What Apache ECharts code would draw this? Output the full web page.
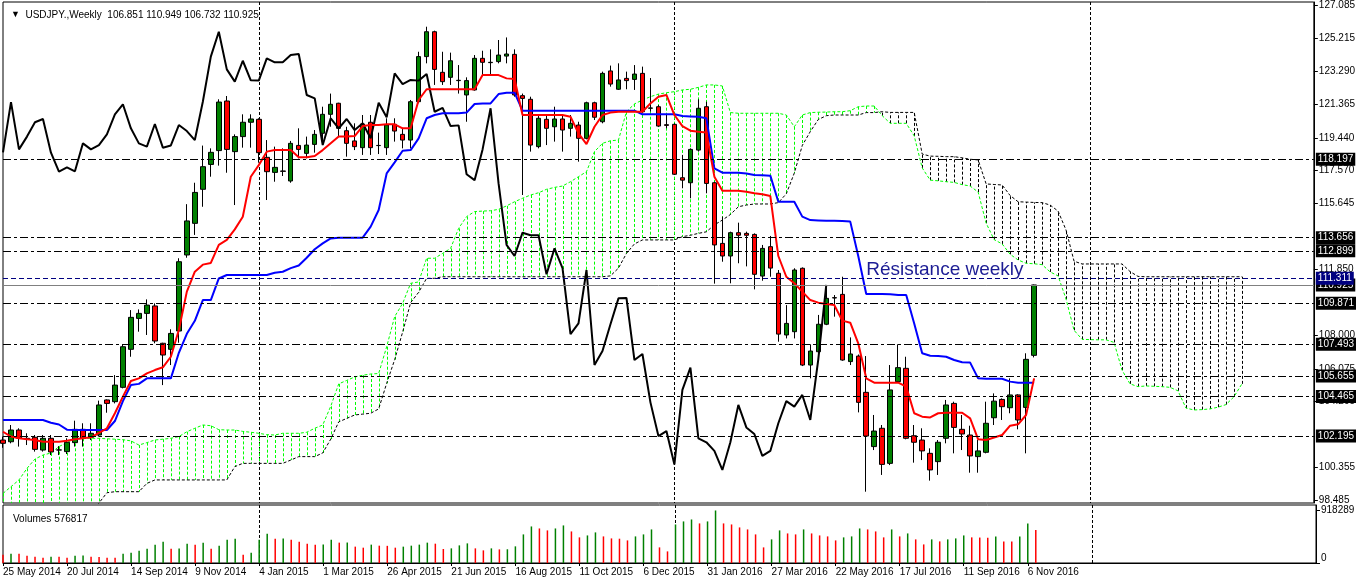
<!DOCTYPE html>
<html><head><meta charset="utf-8">
<script src="https://cdn.jsdelivr.net/npm/echarts@6/dist/echarts.min.js"></script>
<style>html,body{margin:0;padding:0;background:#fff}#c{width:1358px;height:584px}</style>
</head><body><div id="c"></div>
<script>
// ---- data (USDJPY weekly, 25 May 2014 .. 13 Nov 2016) ----
const tickLabels = ['25 May 2014','20 Jul 2014','14 Sep 2014','9 Nov 2014','4 Jan 2015','1 Mar 2015','26 Apr 2015','21 Jun 2015','16 Aug 2015','11 Oct 2015','6 Dec 2015','31 Jan 2016','27 Mar 2016','22 May 2016','17 Jul 2016','11 Sep 2016','6 Nov 2016'];

const opens = [101.95,101.85,102.53,102.05,102.11,101.37,102.05,101.37,101.28,101.80,
102.57,102.11,102.24,104.27,104.17,105.00,107.20,108.99,109.28,109.71,
107.55,107.20,108.26,112.66,114.49,116.46,117.90,118.70,121.57,118.64,
119.51,120.34,120.51,118.31,117.44,117.52,116.94,119.00,118.54,119.06,
119.70,120.80,121.44,119.85,119.26,118.87,120.34,118.99,118.87,120.22,
119.64,119.31,121.53,124.14,125.58,123.23,122.94,122.75,121.92,122.21,
124.04,123.79,123.85,124.17,124.27,121.88,121.67,118.93,120.51,120.08,
120.53,119.99,120.18,119.41,121.47,120.37,123.31,122.25,122.88,122.82,
123.17,121.15,121.24,120.20,120.22,117.13,116.84,118.73,121.24,116.84,
113.33,112.60,113.95,113.91,113.85,111.44,113.14,111.60,108.03,108.22,
111.89,106.29,107.06,108.65,110.19,110.38,106.49,106.81,104.71,101.57,
102.63,100.60,105.33,106.10,102.20,101.95,101.18,100.70,102.05,104.07,
102.57,102.24,100.99,101.24,103.24,104.30,103.82,104.56,103.84,106.851];

const highs = [102.15,102.82,102.63,102.34,102.24,102.24,102.24,101.60,102.05,103.07,
102.92,102.92,104.23,104.30,105.71,107.45,109.47,109.51,110.09,109.86,
107.58,108.36,112.47,115.60,116.84,118.99,118.83,121.67,121.86,119.64,
120.80,120.80,120.57,119.31,118.93,118.83,119.26,119.99,119.51,119.89,
121.24,122.00,121.47,120.08,120.28,120.76,120.76,119.74,120.57,120.57,
119.99,121.63,124.42,125.87,125.64,124.42,124.37,123.65,122.94,124.23,
124.48,124.56,125.10,125.25,124.56,122.00,121.82,120.70,120.76,121.24,
120.76,120.76,120.37,121.53,121.53,123.27,123.62,123.75,123.27,123.65,
123.56,122.90,121.34,120.76,120.28,118.45,118.83,121.67,121.53,116.90,
114.88,114.01,114.53,114.01,113.91,113.24,113.76,111.79,109.76,111.89,
111.94,107.49,109.19,110.92,110.34,111.40,107.89,106.90,106.81,103.40,
102.82,106.29,107.49,106.77,102.82,102.63,101.47,101.95,104.27,104.17,
103.40,102.78,101.95,104.17,104.65,104.36,105.52,104.60,106.97,110.949];

const lows = [101.50,101.76,101.57,101.66,101.28,101.28,101.08,101.08,101.14,101.57,
101.57,101.95,102.15,103.53,104.07,104.94,106.77,108.22,108.03,107.55,
105.13,106.29,107.58,112.50,113.82,115.45,117.19,117.83,117.42,115.55,
118.87,118.87,118.00,115.84,116.90,117.23,116.84,118.25,118.25,118.58,
119.02,120.08,119.51,118.35,118.73,118.45,118.45,118.50,118.45,119.22,
118.83,118.83,121.44,123.75,122.50,122.50,122.50,122.00,120.37,122.17,
123.07,123.07,123.75,123.75,121.82,116.13,118.64,118.83,119.02,119.22,
118.64,119.51,118.06,119.35,120.47,120.28,122.40,122.21,122.25,122.21,
120.86,120.95,120.08,119.99,117.29,116.52,115.94,118.64,116.23,111.00,
112.27,111.02,112.18,112.00,110.67,111.17,111.40,107.64,107.83,107.83,
106.23,105.52,106.58,108.60,109.09,106.54,106.29,103.55,98.96,101.37,
99.93,100.50,105.27,101.99,100.64,100.79,99.60,99.93,101.76,101.18,
101.37,100.06,100.06,101.18,102.82,103.11,103.50,102.57,101.18,106.732];

const closes = [101.76,102.53,102.05,102.01,101.41,102.05,101.26,101.38,101.82,102.57,
102.05,102.34,103.98,104.07,105.13,107.35,109.05,109.28,109.76,107.68,
106.87,108.12,112.27,114.63,116.28,117.77,118.60,121.51,118.77,119.51,
120.34,120.53,118.58,117.48,117.73,117.50,119.12,118.77,119.02,119.64,
120.80,121.38,119.99,119.12,118.93,120.24,118.87,119.00,120.18,119.83,
119.31,121.53,124.14,125.58,123.40,122.69,123.90,122.77,122.75,124.04,
123.81,123.81,124.23,124.29,121.92,121.72,119.02,120.57,119.99,120.53,
119.89,120.28,119.41,121.47,120.63,123.17,122.55,122.79,122.75,123.13,
120.95,121.17,120.12,120.16,117.33,116.99,118.77,121.15,116.80,113.24,
112.60,113.95,113.80,113.80,111.54,113.04,111.90,108.08,108.70,111.79,
106.29,107.10,108.65,110.15,110.17,106.58,106.93,104.13,102.18,102.47,
100.54,104.85,106.14,102.05,101.82,101.32,100.22,101.82,103.98,102.68,
102.30,101.03,101.32,102.92,104.20,103.88,104.56,103.11,106.62,110.925];

const tenkan = [102.43,102.15,102.05,102.00,101.95,101.85,101.85,101.85,101.91,102.00,
102.05,102.11,102.37,102.63,103.50,104.46,105.37,105.52,105.81,106.00,
106.16,106.77,108.32,110.54,111.69,112.10,112.20,113.24,113.53,114.14,
114.87,117.19,117.86,118.64,118.73,118.73,118.73,118.31,118.31,118.39,
118.73,119.12,119.51,119.51,119.54,120.12,120.18,120.18,120.22,120.22,
119.99,119.99,121.63,122.25,122.25,122.25,122.25,122.25,122.25,122.25,
123.07,123.07,123.07,122.88,122.84,120.76,120.76,120.76,120.76,120.76,
120.76,120.66,119.70,119.08,120.08,120.76,120.90,120.95,120.95,120.95,
120.95,121.43,121.82,121.92,120.76,120.12,119.85,119.79,119.75,117.19,
116.38,116.38,116.38,116.32,116.23,116.17,116.07,112.60,111.40,111.02,
110.54,110.05,109.90,109.82,109.76,108.86,108.74,107.55,105.52,105.27,
105.27,105.27,105.27,105.04,103.50,103.30,103.26,103.50,103.53,103.53,
103.53,103.20,101.99,101.95,102.10,102.24,102.78,102.86,103.40,105.52];

const kijun = [103.11,103.11,103.11,103.11,103.11,103.11,102.95,102.85,102.55,102.53,
102.53,102.53,102.53,102.53,103.05,104.20,105.13,105.20,105.52,105.52,
105.52,105.52,107.00,108.10,108.85,110.05,110.05,111.30,111.50,111.50,
111.50,111.50,111.50,111.50,111.63,111.69,111.90,112.05,112.50,112.99,
113.33,113.62,113.66,113.66,113.66,113.66,114.30,115.26,117.38,118.02,
118.69,118.73,119.41,120.57,120.76,120.86,120.86,120.86,120.90,121.40,
121.43,121.43,121.97,122.05,122.05,121.01,121.01,121.01,121.01,121.01,
121.01,121.01,121.01,121.01,121.01,121.01,121.01,121.01,121.01,121.01,
120.80,120.80,120.80,120.80,120.80,120.70,120.68,120.66,120.57,117.67,
117.42,117.42,117.42,117.38,117.29,117.27,117.25,115.74,115.74,115.74,
114.88,114.68,114.66,114.64,114.64,114.62,114.59,112.60,110.40,110.40,
110.40,110.38,110.34,110.34,108.70,106.97,106.83,106.81,106.77,106.58,
106.45,106.43,105.52,105.50,105.50,105.50,105.33,105.27,105.27,105.27];

const chikou = [118.60,121.51,118.77,119.51,120.34,120.53,118.58,117.48,117.73,117.50,
119.12,118.77,119.02,119.64,120.80,121.38,119.99,119.12,118.93,120.24,
118.87,119.00,120.18,119.83,119.31,121.53,124.14,125.58,123.40,122.69,
123.90,122.77,122.75,124.04,123.81,123.81,124.23,124.29,121.92,121.72,
119.02,120.57,119.99,120.53,119.89,120.28,119.41,121.47,120.63,123.17,
122.55,122.79,122.75,123.13,120.95,121.17,120.12,120.16,117.33,116.99,
118.77,121.15,116.80,113.24,112.60,113.95,113.80,113.80,111.54,113.04,
111.90,108.08,108.70,111.79,106.29,107.10,108.65,110.15,110.17,106.58,
106.93,104.13,102.18,102.47,100.54,104.85,106.14,102.05,101.82,101.32,
100.22,101.82,103.98,102.68,102.30,101.03,101.32,102.92,104.20,103.88,
104.56,103.11,106.62,110.925];

const spanA = [98.86,99.25,99.64,100.31,100.85,101.08,101.20,101.57,101.80,102.05,
102.05,102.05,102.05,102.02,102.00,101.97,101.90,101.66,101.80,101.95,
102.00,102.05,102.15,102.43,102.63,102.82,102.78,102.55,102.53,102.53,
102.45,102.40,102.34,102.26,102.24,102.34,102.34,102.34,102.40,102.63,
102.82,103.90,105.20,105.40,105.60,105.70,105.77,105.80,107.35,109.09,
109.86,111.02,111.10,112.47,112.47,112.75,113.04,114.20,114.88,115.17,
115.20,115.22,115.30,115.50,115.74,115.94,116.13,116.26,116.46,116.57,
116.65,116.90,117.19,117.48,118.64,119.12,119.27,119.31,120.95,121.40,
121.63,121.82,121.97,122.05,122.11,122.21,122.25,122.36,122.50,122.50,
122.44,120.90,120.86,120.86,120.86,120.86,120.86,120.86,120.76,120.08,
120.76,120.90,120.92,120.93,120.95,120.95,121.01,121.24,121.28,121.28,
120.72,120.28,120.28,120.28,119.55,117.70,116.99,116.95,116.90,116.86,
116.73,116.65,116.30,114.50,113.55,113.30,112.70,112.37,112.18,112.15,
112.10,111.68,111.45,110.10,108.30,107.78,107.76,107.75,107.75,107.60,
106.00,105.20,105.04,105.08,105.06,105.04,105.00,104.80,103.80,103.69,
103.71,103.75,103.85,104.00,104.45,105.20];

const spanB = [97.00,97.00,97.00,97.00,97.00,97.00,97.00,97.00,97.00,97.00,
97.00,97.80,98.30,98.90,98.96,98.96,98.96,98.96,99.44,99.64,
99.64,99.64,99.64,99.64,99.64,99.64,99.64,99.64,99.64,100.41,
100.60,100.60,100.60,100.60,100.60,100.60,100.79,100.99,100.99,100.99,
101.20,102.00,103.00,103.20,103.40,103.45,103.50,103.75,105.23,106.60,
108.20,109.90,110.50,111.31,111.31,111.40,111.40,111.40,111.40,111.40,
111.40,111.40,111.40,111.40,111.40,111.40,111.40,111.40,111.40,111.40,
111.40,111.40,111.40,111.40,111.40,111.40,111.45,111.90,112.75,113.30,
113.53,113.53,113.53,113.53,113.53,113.72,113.80,113.91,114.00,114.40,
114.68,115.00,115.45,115.55,115.61,115.61,115.61,115.69,116.20,117.40,
119.00,119.80,120.50,120.72,120.76,120.76,120.76,120.76,120.90,120.90,
120.95,120.91,120.91,120.91,120.91,118.50,118.38,118.37,118.35,118.35,
118.28,118.20,118.16,116.77,116.74,116.71,116.10,115.74,115.72,115.70,
115.69,115.55,115.20,114.10,112.30,112.14,112.14,112.14,112.14,112.14,
112.14,111.70,111.42,111.40,111.40,111.40,111.40,111.40,111.40,111.40,
111.40,111.40,111.40,111.40,111.40,111.40];

const volumes = [146000,163000,160000,128000,111000,93000,111000,108000,93000,128000,
130000,111000,105000,93000,90000,163000,181000,216000,251000,321000,
373000,251000,253000,338000,321000,356000,251000,303000,408000,426000,
146000,181000,408000,513000,426000,428000,408000,373000,338000,321000,
323000,408000,356000,358000,286000,268000,321000,303000,300000,268000,
286000,303000,321000,356000,338000,245000,256000,308000,343000,256000,
221000,256000,238000,240000,291000,500000,639000,604000,570000,604000,
657000,552000,448000,482000,535000,465000,430000,425000,395000,465000,
500000,587000,273000,203000,674000,727000,761000,692000,727000,918289,
692000,674000,622000,587000,500000,273000,413000,570000,517000,500000,
587000,517000,482000,465000,395000,448000,465000,604000,587000,552000,
448000,587000,465000,517000,413000,325000,413000,378000,413000,430000,
482000,448000,445000,440000,465000,378000,375000,465000,692000,576817];

const levelLines = [118.197, 113.656, 112.899, 109.871, 107.493, 105.655, 104.465, 102.195];
const bidPrice = 110.925;
const resistance = 111.311;
const resistanceText = 'Résistance weekly';
const resistanceAnchor = [108, 111.82];
const priceTicks = [127.085,125.215,123.290,121.365,119.440,117.570,115.645,111.850,108.000,106.075,104.205,100.355,98.485];
const volumeTicks = [918289, 0];
const gridLineBars = [32, 84, 136];
const titleText = 'USDJPY.,Weekly  106.851 110.949 106.732 110.925';
const volumeTitle = 'Volumes 576817';

// ---- chart ----
const FONT = "'Liberation Sans', Arial, sans-serif";
const N = 165;
const cats = Array.from({length: N}, (_, i) => String(i));
const candleData = opens.map((o, i) => [o, closes[i], lows[i], highs[i]]);
const volData = volumes.map((v, i) => ({value: v, itemStyle: {color: (i > 0 && v > volumes[i - 1]) ? '#008000' : '#ff0000'}}));
// cloud hatch: one vertical segment per bar, split by which span is on top
const hatchUp = [], hatchDown = [];
spanA.forEach((a, i) => { const b = spanB[i]; (a >= b ? hatchUp : hatchDown).push([i, a, b]); });

const dashDot = [8, 3, 3, 3];
const boxLabel = (txt, bg) => ({show: true, position: 'end', distance: 2, formatter: txt, backgroundColor: bg, color: '#fff', padding: [2, 2, 1, 2], fontSize: 10, fontFamily: FONT});
const levelMarks = levelLines.map(v => ({
  yAxis: v, lineStyle: {color: '#000', type: dashDot, width: 1}, label: boxLabel(v.toFixed(3), '#000')
}));
levelMarks.push({yAxis: bidPrice, lineStyle: {color: '#808080', type: 'solid', width: 1}, label: boxLabel(bidPrice.toFixed(3), '#000')});
levelMarks.push({yAxis: resistance, lineStyle: {color: '#000080', type: [5, 3], width: 1}, label: boxLabel(resistance.toFixed(3), '#000080')});

const gridSplit = {show: true, interval: (i) => gridLineBars.includes(i), lineStyle: {color: '#000', type: [3, 2], width: 1}};
const dateShow = (i) => i % 8 === 0 && i <= 128;

function hatchSeries(name, data, color) {
  return {
    type: 'custom', name, xAxisIndex: 0, yAxisIndex: 0, z: 1, silent: true,
    data, encode: {x: 0, y: [1, 2]},
    renderItem: (params, api) => {
      const i = api.value(0), a = api.value(1), b = api.value(2);
      const p1 = api.coord([i, a]), p2 = api.coord([i, b]);
      const cs = params.coordSys;
      const clamp = y => Math.max(cs.y, Math.min(cs.y + cs.height, y));
      const x = Math.round(p1[0]) + 0.5;
      return {type: 'line', silent: true,
              shape: {x1: x, y1: clamp(p1[1]), x2: x, y2: clamp(p2[1])},
              style: {stroke: color, lineDash: [3, 2], lineWidth: 1, opacity: 1}};
    }
  };
}

const chart = echarts.init(document.getElementById('c'), null, {renderer: 'canvas'});
chart.setOption({
  animation: false,
  backgroundColor: '#fff',
  textStyle: {fontFamily: FONT},
  title: [
    {text: '{t|▼}  ' + titleText, left: 6, top: 5,
     textStyle: {fontSize: 10, fontWeight: 'normal', color: '#000', fontFamily: FONT, rich: {t: {fontSize: 9, color: '#000'}}}},
    {text: volumeTitle, left: 8, top: 509,
     textStyle: {fontSize: 10, fontWeight: 'normal', color: '#000', fontFamily: FONT}}
  ],
  grid: [
    {left: 3, right: 42, top: 2, height: 501, show: true, borderColor: '#000', borderWidth: 1},
    {left: 3, right: 42, top: 505, height: 58, show: true, borderColor: '#000', borderWidth: 1}
  ],
  xAxis: [
    {type: 'category', gridIndex: 0, data: cats, boundaryGap: false,
     axisLine: {show: false}, axisTick: {show: false}, axisLabel: {show: false}, splitLine: gridSplit},
    {type: 'category', gridIndex: 1, data: cats, boundaryGap: false,
     axisLine: {show: true, lineStyle: {color: '#000'}},
     axisTick: {show: true, interval: dateShow, length: 3, lineStyle: {color: '#000'}},
     axisLabel: {show: true, interval: dateShow, formatter: (v, i) => tickLabels[i / 8] || '', align: 'left', margin: 4, fontSize: 10, color: '#000', fontFamily: FONT},
     splitLine: gridSplit}
  ],
  yAxis: [
    {type: 'value', gridIndex: 0, position: 'right', min: 98.306, max: 127.30, scale: true,
     axisLine: {show: true, lineStyle: {color: '#000'}},
     axisTick: {show: true, customValues: priceTicks, length: 4, lineStyle: {color: '#000'}},
     axisLabel: {show: true, customValues: priceTicks, formatter: v => v.toFixed(3), color: '#000', fontSize: 10, fontFamily: FONT, margin: 5},
     splitLine: {show: false}},
    {type: 'value', gridIndex: 1, position: 'right', min: 0, max: 1014000,
     axisLine: {show: true, lineStyle: {color: '#000'}},
     axisTick: {show: true, customValues: volumeTicks, length: 4, lineStyle: {color: '#000'}},
     axisLabel: {show: true, customValues: [volumeTicks[0]], formatter: v => String(Math.round(v)), color: '#000', fontSize: 10, fontFamily: FONT, margin: 5},
     splitLine: {show: false}},
    {type: 'value', gridIndex: 1, position: 'right', min: 0, max: 1014000,
     axisLine: {show: false}, axisTick: {show: false},
     axisLabel: {show: true, customValues: [volumeTicks[1]], verticalAlign: 'bottom', formatter: v => String(Math.round(v)), color: '#000', fontSize: 10, fontFamily: FONT, margin: 5},
     splitLine: {show: false}}
  ],
  series: [
    hatchSeries('cloudUp', hatchUp, '#00ff00'),
    hatchSeries('cloudDown', hatchDown, '#000000'),
    {type: 'line', name: 'spanA', data: spanA, symbol: 'none', z: 2, silent: true,
     lineStyle: {color: '#00ff00', width: 1, type: [3, 2]}},
    {type: 'line', name: 'spanB', data: spanB, symbol: 'none', z: 2, silent: true,
     lineStyle: {color: '#000', width: 1, type: [3, 2]}},
    {type: 'line', name: 'levels', data: [], z: 2.5, silent: true,
     markLine: {symbol: ['none', 'none'], silent: true, animation: false, data: levelMarks},
     markPoint: {silent: true, animation: false, data: [{
       coord: resistanceAnchor, symbol: 'circle', symbolSize: 0,
       label: {show: true, position: 'right', distance: 0, formatter: resistanceText, color: '#1c1c94', fontSize: 19, fontFamily: FONT}
     }]}},
    {type: 'candlestick', name: 'USDJPY', data: candleData, barWidth: 5, z: 3, silent: true,
     itemStyle: {color: '#008000', color0: '#ff0000', borderColor: '#000', borderColor0: '#000', borderColorDoji: '#000', borderWidth: 1}},
    {type: 'line', name: 'chikou', data: chikou, symbol: 'none', z: 4, silent: true,
     lineStyle: {color: '#000', width: 2}},
    {type: 'line', name: 'kijun', data: kijun, symbol: 'none', z: 4, silent: true,
     lineStyle: {color: '#0000ff', width: 2}},
    {type: 'line', name: 'tenkan', data: tenkan, symbol: 'none', z: 4, silent: true,
     lineStyle: {color: '#ff0000', width: 2}},
    {type: 'bar', name: 'volume', xAxisIndex: 1, yAxisIndex: 1, data: volData, barWidth: 1.5, silent: true}
  ]
});
</script>
</body></html>
